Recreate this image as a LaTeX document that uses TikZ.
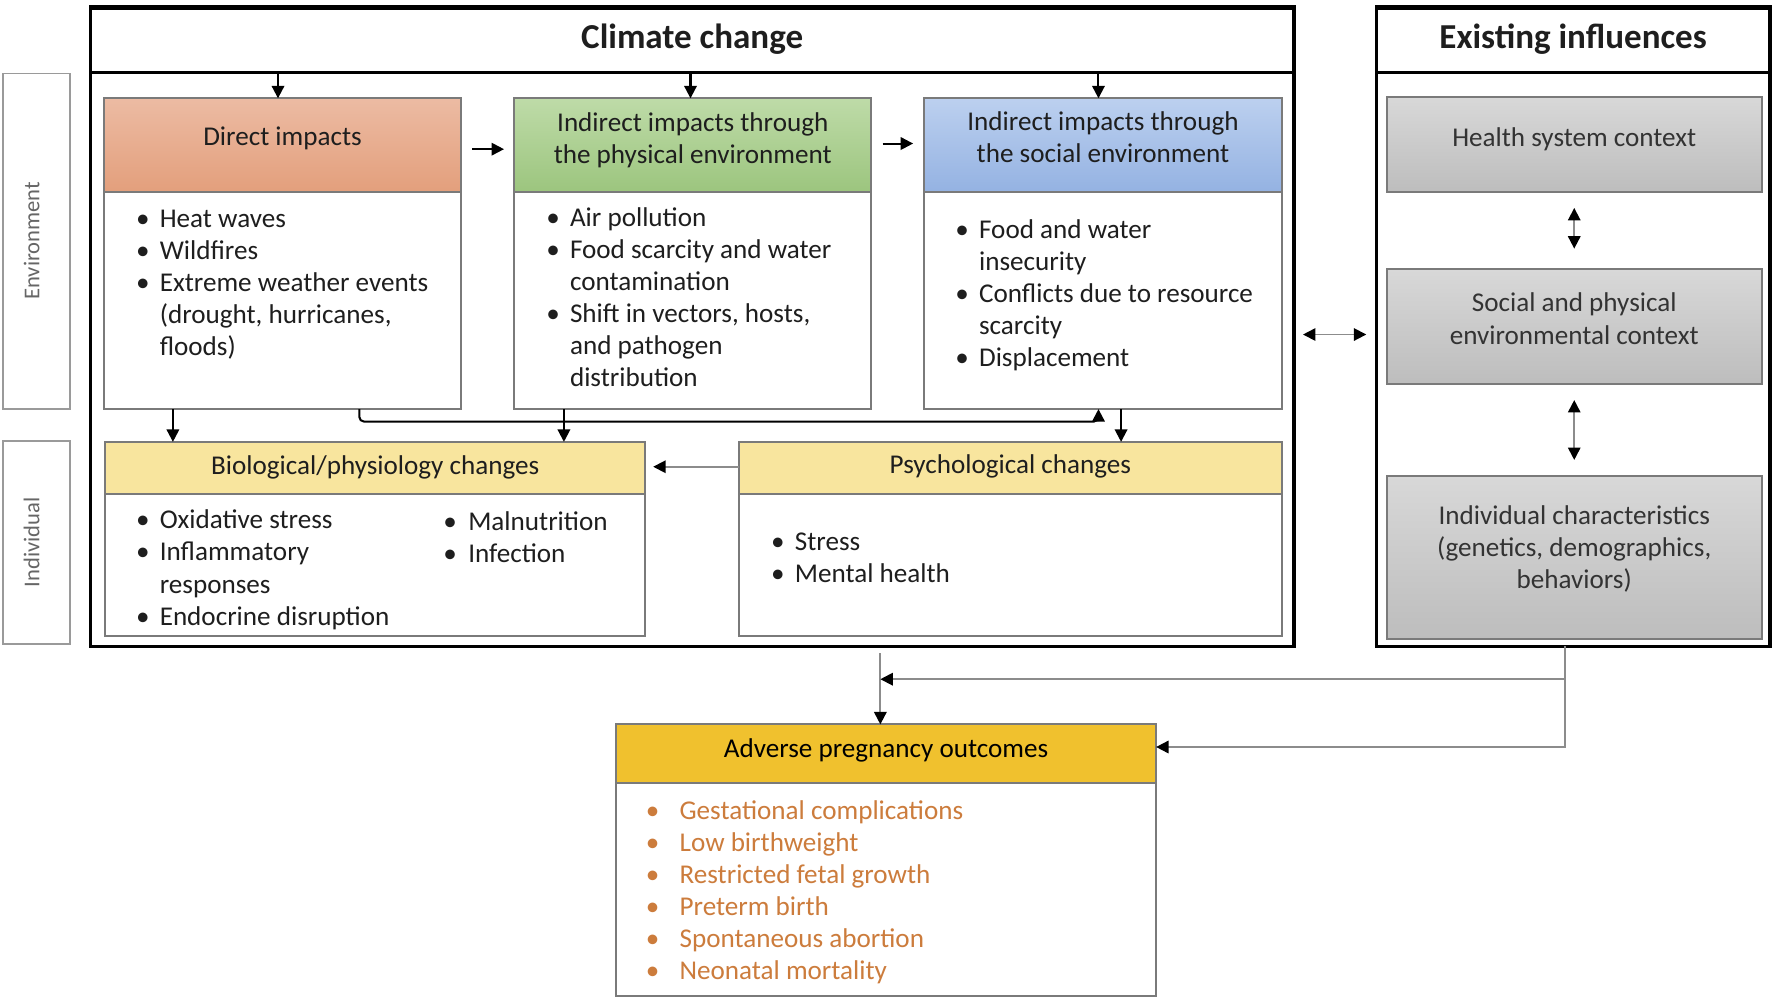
\documentclass[tikz,border=0pt]{standalone}
\usepackage{fontspec}
\setmainfont{Carlito}
\usetikzlibrary{arrows.meta,calc}
\definecolor{boxgray}{HTML}{7A7A7A}
\definecolor{lblgray}{HTML}{9A9A9A}
\definecolor{txtc}{HTML}{1E1E1E}
\definecolor{dirT}{HTML}{ECBBA3}
\definecolor{dirB}{HTML}{E39F7C}
\definecolor{phyT}{HTML}{BEDBA8}
\definecolor{phyB}{HTML}{9CC57E}
\definecolor{socT}{HTML}{BCD0EF}
\definecolor{socB}{HTML}{94B2E2}
\definecolor{yel}{HTML}{F8E59E}
\definecolor{gold}{HTML}{F0C12E}
\definecolor{gryT}{HTML}{D8D8D8}
\definecolor{gryB}{HTML}{BDBDBD}
\definecolor{outc}{HTML}{CC7C3C}
\definecolor{linegray}{HTML}{8C8C8C}
\newcommand\bodyfont{\fontsize{12}{14.2}\selectfont}
\newcommand\bul{\makebox[0pt][c]{\textbullet}\hspace{7.5pt}}
\newcommand\bulb{\makebox[0pt][c]{\textbullet}\hspace{12pt}}
\newcommand\indt{\hspace*{7.5pt}}
\tikzset{
  box/.style={draw=boxgray, line width=0.9pt, inner sep=0pt, outer sep=0pt},
  big/.style={draw=black, line width=1.6pt, inner sep=0pt, outer sep=0pt},
  lbl/.style={draw=lblgray, line width=0.8pt, inner sep=0pt, outer sep=0pt},
  txt/.style={font=\bodyfont, text=txtc, inner sep=0pt, align=center},
  lst/.style={font=\bodyfont, text=txtc, inner sep=0pt, align=left, anchor=north west},
  arr/.style={-{Triangle[length=5.5pt,width=5.5pt]}, line width=0.9pt, draw=black},
  garr/.style={-{Triangle[length=5.5pt,width=5.5pt,color=black]}, line width=0.8pt, draw=linegray},
  darr/.style={{Triangle[length=5.5pt,width=5.5pt,color=black]}-{Triangle[length=5.5pt,width=5.5pt,color=black]}, line width=0.8pt, draw=linegray},
}
\begin{document}
\begin{tikzpicture}[x=0.5pt,y=-0.5pt]
\useasboundingbox (0,0) rectangle (1568,884);
\fill[white] (0,0) rectangle (1568,884);

% outer frames
\node[big, minimum width=532.5pt, minimum height=282.5pt] (cl) at (612.5,289.5) {};
\node[big, minimum width=532.5pt, minimum height=29pt, font=\fontsize{15.5}{18}\selectfont\bfseries, text=txtc] (ch) at (612.5,35) {Climate change};
\node[big, minimum width=174pt, minimum height=282.5pt] (ex) at (1392,289.5) {};
\node[big, minimum width=174pt, minimum height=29pt, font=\fontsize{15.5}{18}\selectfont\bfseries, text=txtc] (eh) at (1392,35) {Existing influences};

% side labels
\node[lbl, minimum width=29.5pt, minimum height=148.5pt] (envb) at (32.5,213.5) {};
\node[rotate=90, font=\fontsize{10}{12}\selectfont, text=black!60] (envt) at (28,213) {Environment};
\node[lbl, minimum width=29.5pt, minimum height=90pt] (indb) at (32.5,480) {};
\node[rotate=90, font=\fontsize{10}{12}\selectfont, text=black!60] (indt) at (28,480) {Individual};

% environment row
\node[box, minimum width=158pt, minimum height=41.5pt, top color=dirT, bottom color=dirB] (dh) at (250,128.5) {};
\node[box, minimum width=158pt, minimum height=96pt] (db) at (250,266) {};
\node[txt] (dht) at (250,122) {Direct impacts};
\node[box, minimum width=158pt, minimum height=41.5pt, top color=phyT, bottom color=phyB] (ph) at (613,128.5) {};
\node[box, minimum width=158pt, minimum height=96pt] (pb) at (613,266) {};
\node[txt] (pht) at (613,124) {Indirect impacts through\\the physical environment};
\node[box, minimum width=158pt, minimum height=41.5pt, top color=socT, bottom color=socB] (sh) at (976,128.5) {};
\node[box, minimum width=158pt, minimum height=96pt] (sb) at (976,266) {};
\node[txt] (sht) at (976,121.5) {Indirect impacts through\\the social environment};

\node[lst] (dl) at (126,180.7) {\strut\bul Heat waves\\\bul Wildfires\\\bul Extreme weather events\\\indt(drought, hurricanes,\\\indt floods)};
\node[lst] (pl) at (489,179.7) {\strut\bul Air pollution\\\bul Food scarcity and water\\\indt contamination\\\bul Shift in vectors, hosts,\\\indt and pathogen\\\indt distribution};
\node[lst] (sl) at (851,190.7) {\strut\bul Food and water\\\indt insecurity\\\bul Conflicts due to resource\\\indt scarcity\\\bul Displacement};

% individual row
\node[box, minimum width=239pt, minimum height=23pt, fill=yel] (bh) at (332,414) {};
\node[txt] (bht) at (332,413.5) {Biological/physiology changes};
\node[box, minimum width=239pt, minimum height=63pt] (bb) at (332,500) {};
\node[lst] (bl1) at (126,447.7) {\strut\bul Oxidative stress\\\bul Inflammatory\\\indt responses\\\bul Endocrine disruption};
\node[lst] (bl2) at (398,448.7) {\strut\makebox[0pt][c]{\textbullet}\hspace{8pt}Malnutrition\\\makebox[0pt][c]{\textbullet}\hspace{8pt}Infection};
\node[box, minimum width=240pt, minimum height=23pt, fill=yel] (psh) at (894,414) {};
\node[txt] (psht) at (894,413) {Psychological changes};
\node[box, minimum width=240pt, minimum height=63pt] (psb) at (894,500) {};
\node[lst] (psl) at (688,466.7) {\strut\bul Stress\\\bul Mental health};

% existing influences
\node[box, minimum width=166pt, minimum height=42pt, top color=gryT, bottom color=gryB] (hs) at (1393,128) {};
\node[txt, text=black!80] (hst) at (1393,123) {Health system context};
\node[box, minimum width=166pt, minimum height=51pt, top color=gryT, bottom color=gryB] (sp) at (1393,289) {};
\node[txt, text=black!80] (spt) at (1393,282) {Social and physical\\environmental context};
\node[box, minimum width=166pt, minimum height=72pt, top color=gryT, bottom color=gryB] (ic) at (1393,493) {};
\node[txt, text=black!80] (ict) at (1393,486) {Individual characteristics\\(genetics, demographics,\\behaviors)};

% outcomes
\node[box, minimum width=239pt, minimum height=26pt, fill=gold] (ah) at (784,667) {};
\node[txt, text=black] (aht) at (784,664) {Adverse pregnancy outcomes};
\node[box, minimum width=239pt, minimum height=94pt] (ab) at (784,787) {};
\node[lst, text=outc] (al) at (577,704.7) {\strut\bulb Gestational complications\\\bulb Low birthweight\\\bulb Restricted fetal growth\\\bulb Preterm birth\\\bulb Spontaneous abortion\\\bulb Neonatal mortality};

% connectors inside climate box
\draw[arr] ([xshift=-2pt]dh.north |- ch.south) -- ([xshift=-2pt]dh.north);
\draw[arr] ([xshift=-1pt]ph.north |- ch.south) -- ([xshift=-1pt]ph.north);
\draw[arr] ([xshift=-2pt]sh.north |- ch.south) -- ([xshift=-2pt]sh.north);
\draw[arr, shorten <=5pt, shorten >=4.5pt] ([yshift=-1.75pt]dh.east) -- ([yshift=-1.75pt]ph.west);
\draw[arr, shorten <=5pt, shorten >=5pt] ([yshift=0.75pt]ph.east) -- ([yshift=0.75pt]sh.west);
\draw[arr] ([xshift=30.5pt]db.south west) -- ([xshift=30.5pt]db.south west |- bh.north);
\draw[arr] ([xshift=22pt]pb.south west) -- ([xshift=22pt]pb.south west |- bh.north);
\draw[arr, rounded corners=2pt] ([xshift=113pt]db.south west) -- ++(0,11) -| ([xshift=77pt]sb.south west);
\draw[arr] ([xshift=87pt]sb.south west) -- ([xshift=87pt]sb.south west |- psh.north);
\draw[garr, shorten >=3.5pt] ([yshift=0.5pt]psh.west) -- ([yshift=0.5pt]bh.east);

% between frames and inside existing influences
\draw[darr, shorten <=4pt, shorten >=4.5pt] ([yshift=-3.25pt]cl.east) -- ([yshift=-3.25pt]ex.west);
\draw[darr, shorten <=7pt, shorten >=9pt] (hs.south) -- (sp.north);
\draw[darr, shorten <=7pt, shorten >=7pt] (sp.south) -- (ic.north);

% to outcomes
\coordinate (v0) at (779,578);
\coordinate (j) at (779,601);
\draw[garr] (v0) -- (v0 |- ah.north);
\draw[garr] ([xshift=-3.5pt]ex.south) |- ([yshift=3pt]ah.east);
\draw[garr] ([xshift=-3.5pt]ex.south |- j) -- (j);
\end{tikzpicture}
\end{document}
